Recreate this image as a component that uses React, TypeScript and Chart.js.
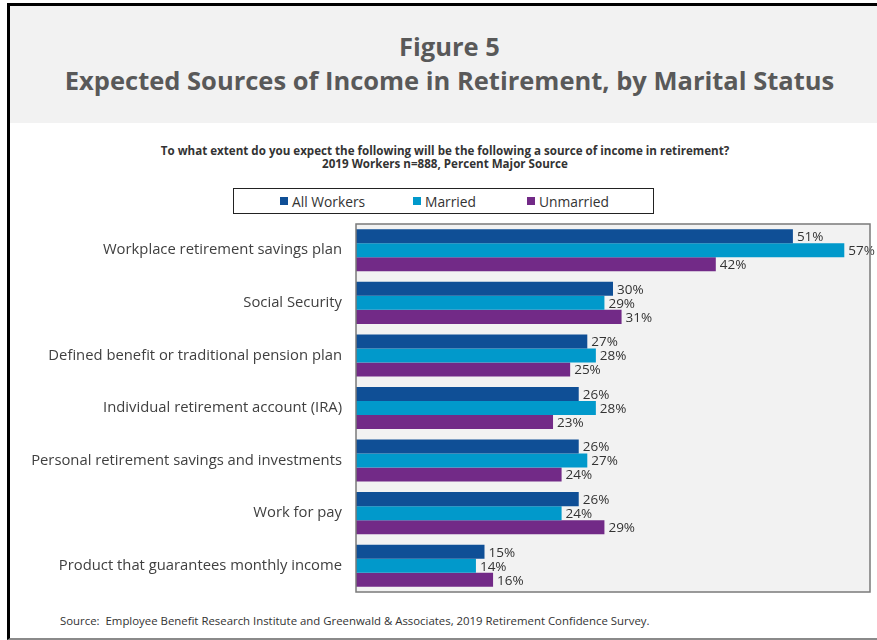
import React, { useEffect, useRef } from "react";
import { Chart, registerables } from "chart.js";

Chart.register(...registerables);

const categories = [
  "Workplace retirement savings plan",
  "Social Security",
  "Defined benefit or traditional pension plan",
  "Individual retirement account (IRA)",
  "Personal retirement savings and investments",
  "Work for pay",
  "Product that guarantees monthly income",
];
const seriesNames = ["All Workers", "Married", "Unmarried"];
const allWorkers = [51, 30, 27, 26, 26, 26, 15];
const married = [57, 29, 28, 28, 27, 24, 14];
const unmarried = [42, 31, 25, 23, 24, 29, 16];
const seriesColors = ["#0f4f96", "#0199cb", "#722a87"];

const FONT = "'Open Sans', 'DejaVu Sans', sans-serif";

const plotFrame = {
  id: "plotFrame",
  beforeDraw(chart: any) {
    const { ctx, chartArea: a } = chart;
    ctx.save();
    ctx.fillStyle = "#f2f2f2";
    ctx.fillRect(a.left, a.top, a.right - a.left, a.bottom - a.top);
    ctx.restore();
  },
  afterDraw(chart: any) {
    const { ctx, chartArea: a } = chart;
    ctx.save();
    ctx.strokeStyle = "#7a7a7a";
    ctx.lineWidth = 1.5;
    ctx.strokeRect(a.left, a.top, a.right - a.left, a.bottom - a.top);
    ctx.restore();
  },
};

const valueLabels = {
  id: "valueLabels",
  afterDatasetsDraw(chart: any) {
    const { ctx } = chart;
    ctx.save();
    ctx.font = `13.5px ${FONT}`;
    ctx.fillStyle = "#333333";
    ctx.textBaseline = "middle";
    ctx.textAlign = "left";
    chart.data.datasets.forEach((ds: any, i: number) => {
      const meta = chart.getDatasetMeta(i);
      meta.data.forEach((bar: any, j: number) => {
        ctx.fillText(`${ds.data[j]}%`, bar.x + 4, bar.y + 1);
      });
    });
    ctx.restore();
  },
};

function BarChart() {
  const ref = useRef<HTMLCanvasElement | null>(null);
  useEffect(() => {
    if (!ref.current) return;
    const values = [allWorkers, married, unmarried];
    const chart = new Chart(ref.current, {
      type: "bar",
      data: {
        labels: categories,
        datasets: seriesNames.map((name, i) => ({
          label: name,
          data: values[i],
          backgroundColor: seriesColors[i],
          borderWidth: 0,
          categoryPercentage: 0.8,
          barPercentage: 1.0,
        })),
      },
      options: {
        indexAxis: "y",
        animation: false,
        responsive: false,
        maintainAspectRatio: false,
        layout: { padding: { top: 4, right: 7, bottom: 8, left: 0 } },
        plugins: {
          legend: { display: false },
          tooltip: { enabled: false },
          title: { display: false },
        },
        scales: {
          x: {
            display: false,
            min: 0,
            max: 60,
          },
          y: {
            grid: { display: false, drawTicks: false },
            border: { display: false },
            ticks: {
              padding: 14,
              color: "#404040",
              font: { family: FONT, size: 14.8 },
            },
            afterFit(scale: any) {
              scale.width = 356;
              scale.paddingTop = 0;
              scale.paddingBottom = 0;
            },
          },
        },
      },
      plugins: [plotFrame, valueLabels],
    });
    return () => chart.destroy();
  }, []);
  return (
    <canvas
      ref={ref}
      width={877}
      height={380}
      style={{ position: "absolute", left: 0, top: 220, width: 877, height: 380 }}
    />
  );
}

const legendLefts = [280, 413, 527];

export default function App() {
  return (
    <div
      style={{
        position: "fixed",
        left: 0,
        top: 0,
        width: 877,
        height: 640,
        background: "#ffffff",
        overflow: "hidden",
        fontFamily: FONT,
      }}
    >
      <div
        style={{
          position: "absolute",
          left: 7,
          top: 3,
          width: 890,
          height: 632,
          borderLeft: "3px solid #000",
          borderTop: "3px solid #000",
          borderBottom: "2px solid #8a8a8a",
        }}
      />
      <div
        style={{
          position: "absolute",
          left: 10,
          top: 6,
          width: 867,
          height: 117,
          background: "#f2f2f2",
        }}
      />
      <div
        style={{
          position: "absolute",
          left: 10,
          top: 29,
          width: 877,
          textAlign: "center",
          color: "#595959",
          fontWeight: 700,
          fontSize: 25.5,
          lineHeight: "34px",
          whiteSpace: "nowrap",
        }}
      >
        <div style={{ marginLeft: 2 }}>Figure 5</div>
        <div style={{ marginLeft: 2 }}>Expected Sources of Income in Retirement, by Marital Status</div>
      </div>
      <div
        style={{
          position: "absolute",
          left: 0,
          top: 144,
          width: 890,
          textAlign: "center",
          color: "#333333",
          fontWeight: 700,
          fontSize: 11.6,
          lineHeight: "13px",
          whiteSpace: "nowrap",
        }}
      >
        <div>To what extent do you expect the following will be the following a source of income in retirement?</div>
        <div>2019 Workers n=888, Percent Major Source</div>
      </div>
      <div
        style={{
          position: "absolute",
          left: 233,
          top: 188,
          width: 421,
          height: 26,
          border: "1px solid #222",
          boxSizing: "border-box",
        }}
      />
      {seriesNames.map((name, i) => (
        <div
          key={name}
          style={{
            position: "absolute",
            left: legendLefts[i],
            top: 193,
            height: 16,
            display: "flex",
            alignItems: "center",
            fontSize: 13.8,
            color: "#333333",
            whiteSpace: "nowrap",
          }}
        >
          <span
            style={{
              display: "inline-block",
              width: 8,
              height: 8,
              background: seriesColors[i],
              marginRight: 4,
            }}
          />
          {name}
        </div>
      ))}
      <BarChart />
      <div
        style={{
          position: "absolute",
          left: 60,
          top: 614,
          fontSize: 11.4,
          color: "#333333",
          whiteSpace: "pre",
          lineHeight: "14px",
        }}
      >
        {"Source:  Employee Benefit Research Institute and Greenwald & Associates, 2019 Retirement Confidence Survey."}
      </div>
    </div>
  );
}
